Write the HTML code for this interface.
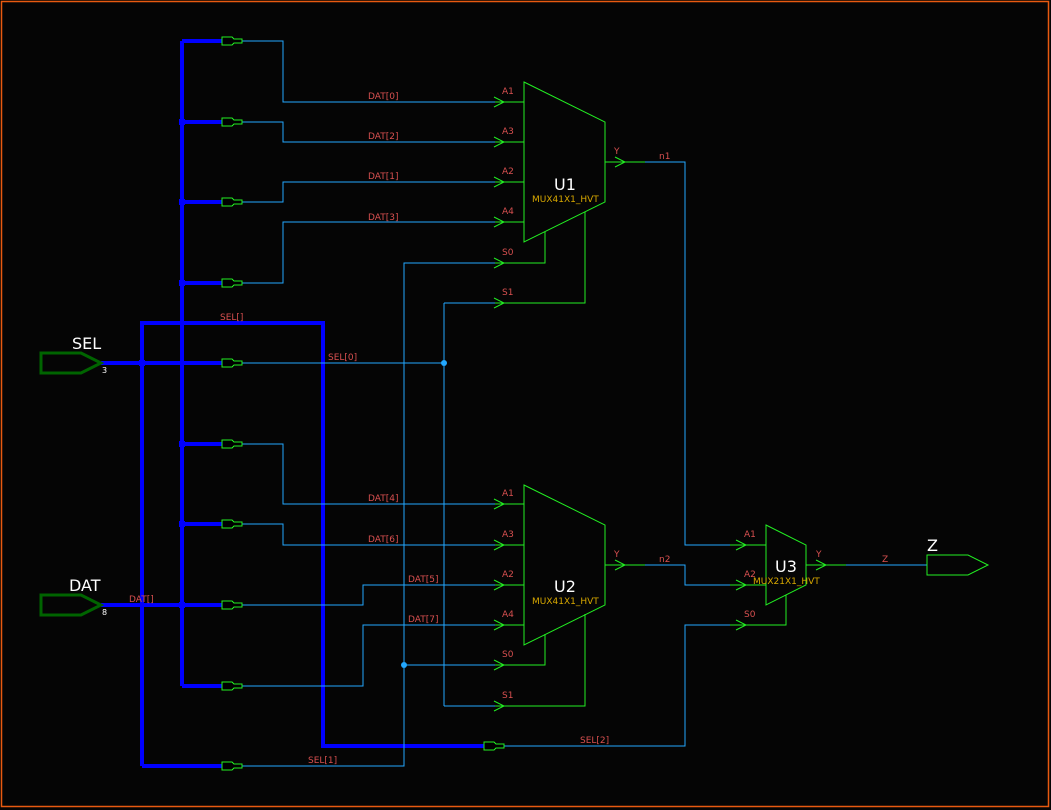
<!DOCTYPE html>
<html><head><meta charset="utf-8"><style>
html,body{margin:0;padding:0;background:#050505;}
svg{display:block;}
text{font-family:"DejaVu Sans","Liberation Sans",sans-serif;}
.l{fill:#d85050;font-size:9px;}
.w{fill:none;stroke:#22a8ff;stroke-width:1;shape-rendering:crispEdges;}
.g{fill:none;stroke:#22ee22;stroke-width:1;}
.gc{fill:none;stroke:#22ee22;stroke-width:1;shape-rendering:crispEdges;}
.b{fill:none;stroke:#0000ff;stroke-width:4;shape-rendering:crispEdges;}
.r{fill:#000;stroke:#22ee22;stroke-width:1;shape-rendering:crispEdges;}
</style></head><body>
<svg width="1051" height="810" viewBox="0 0 1051 810" xmlns="http://www.w3.org/2000/svg">
<rect x="1.5" y="1.5" width="1047" height="805" fill="#050505" stroke="#e85a10" stroke-width="1.5"/>

<g class="b">
<path d="M182 41V686"/>
<path d="M182 41H222M182 122H222M182 202H222M182 283H222M182 444H222M182 524H222M101 605H222M182 686H222"/>
<path d="M142 766V323H323V746H484"/>
<path d="M142 766H222"/>
<path d="M101 363H222"/>
</g>
<g fill="#0000ff">
<rect x="179" y="119" width="6" height="6"/><rect x="179" y="199" width="6" height="6"/><rect x="179" y="280" width="6" height="6"/>
<rect x="179" y="441" width="6" height="6"/><rect x="179" y="521" width="6" height="6"/><rect x="179" y="602" width="6" height="6"/>
<rect x="139" y="360" width="6" height="6"/>
</g>

<g class="w">
<path d="M242 41H283V102H495"/>
<path d="M242 122H283V142H495"/>
<path d="M242 202H283V182H495"/>
<path d="M242 283H283V222H495"/>
<path d="M242 363H444"/>
<path d="M444 303V706"/><path d="M444 303H495M444 706H495"/>
<path d="M242 766H404V263H495"/><path d="M404 665H495"/>
<path d="M242 444H283V504H495"/>
<path d="M242 524H283V545H495"/>
<path d="M242 605H363V585H495"/>
<path d="M242 686H363V625H495"/>
<path d="M504 746H685V625H730"/>
<path d="M645 162H685V545H730"/>
<path d="M645 565H685V585H730"/>
<path d="M846 565H927"/>
</g>
<circle cx="444" cy="363" r="3" fill="#22a8ff"/>
<circle cx="404" cy="665" r="3" fill="#22a8ff"/>

<g class="r">
<path d="M222 37H232L234 39H242V43H234L232 45H222Z"/>
<path d="M222 118H232L234 120H242V124H234L232 126H222Z"/>
<path d="M222 198H232L234 200H242V204H234L232 206H222Z"/>
<path d="M222 279H232L234 281H242V285H234L232 287H222Z"/>
<path d="M222 359H232L234 361H242V365H234L232 367H222Z"/>
<path d="M222 440H232L234 442H242V446H234L232 448H222Z"/>
<path d="M222 520H232L234 522H242V526H234L232 528H222Z"/>
<path d="M222 601H232L234 603H242V607H234L232 609H222Z"/>
<path d="M222 682H232L234 684H242V688H234L232 690H222Z"/>
<path d="M222 762H232L234 764H242V768H234L232 770H222Z"/>
<path d="M484 742H494L496 744H504V748H496L494 750H484Z"/>
</g>

<g class="gc">
<path d="M495 102H524M495 142H524M495 182H524M495 222H524"/>
<path d="M495 263H545V232M495 303H585V212"/>
<path d="M605 162H645"/>
<path d="M495 504H524M495 545H524M495 585H524M495 625H524"/>
<path d="M495 665H545V634M495 706H585V614"/>
<path d="M605 565H645"/>
<path d="M730 545H766M730 585H766M730 625H786V595"/>
<path d="M806 565H846"/>
</g>
<g class="g">
<path d="M494 97L504 102L494 107M494 137L504 142L494 147M494 177L504 182L494 187M494 217L504 222L494 227M494 258L504 263L494 268M494 298L504 303L494 308"/>
<path d="M494 499L504 504L494 509M494 540L504 545L494 550M494 580L504 585L494 590M494 620L504 625L494 630M494 660L504 665L494 670M494 701L504 706L494 711"/>
<path d="M615 157L625 162L615 167M615 560L625 565L615 570"/>
<path d="M736 540L746 545L736 550M736 580L746 585L736 590M736 620L746 625L736 630M816 560L826 565L816 570"/>
<path d="M524 82L605 122V202L524 242Z"/>
<path d="M524 485L605 525V605L524 645Z"/>
<path d="M766 525L806 545V585L766 605Z"/>
<path d="M927 555H968L988 565L968 575H927Z"/>
</g>

<g fill="none" stroke="#006400" stroke-width="3">
<path d="M41 353H81L101 363L81 373H41Z"/>
<path d="M41 595H81L101 605L81 615H41Z"/>
</g>

<g fill="#fff">
<text x="72" y="349" font-size="16">SEL</text>
<text x="69" y="591" font-size="16">DAT</text>
<text x="927" y="551" font-size="16">Z</text>
<text x="554" y="190" font-size="16">U1</text>
<text x="554" y="592" font-size="16">U2</text>
<text x="775" y="572" font-size="16">U3</text>
<text x="102" y="373" font-size="8">3</text>
<text x="102" y="615" font-size="8">8</text>
</g>
<g fill="#d8a800" font-size="9">
<text x="532" y="202">MUX41X1_HVT</text>
<text x="532" y="604">MUX41X1_HVT</text>
<text x="753" y="584">MUX21X1_HVT</text>
</g>
<g class="l">
<text x="368" y="99">DAT[0]</text>
<text x="368" y="139">DAT[2]</text>
<text x="368" y="179">DAT[1]</text>
<text x="368" y="220">DAT[3]</text>
<text x="220" y="320">SEL[]</text>
<text x="328" y="360">SEL[0]</text>
<text x="368" y="501">DAT[4]</text>
<text x="368" y="542">DAT[6]</text>
<text x="408" y="582">DAT[5]</text>
<text x="408" y="622">DAT[7]</text>
<text x="129" y="602">DAT[]</text>
<text x="308" y="763">SEL[1]</text>
<text x="580" y="743">SEL[2]</text>
<text x="502" y="94">A1</text><text x="502" y="134">A3</text><text x="502" y="174">A2</text><text x="502" y="214">A4</text>
<text x="502" y="255">S0</text><text x="502" y="295">S1</text>
<text x="502" y="496">A1</text><text x="502" y="537">A3</text><text x="502" y="577">A2</text><text x="502" y="617">A4</text>
<text x="502" y="657">S0</text><text x="502" y="698">S1</text>
<text x="614" y="154">Y</text><text x="614" y="557">Y</text>
<text x="659" y="159">n1</text><text x="659" y="562">n2</text>
<text x="744" y="537">A1</text><text x="744" y="577">A2</text><text x="744" y="617">S0</text>
<text x="816" y="557">Y</text><text x="882" y="562">Z</text>
</g>
</svg>
</body></html>
